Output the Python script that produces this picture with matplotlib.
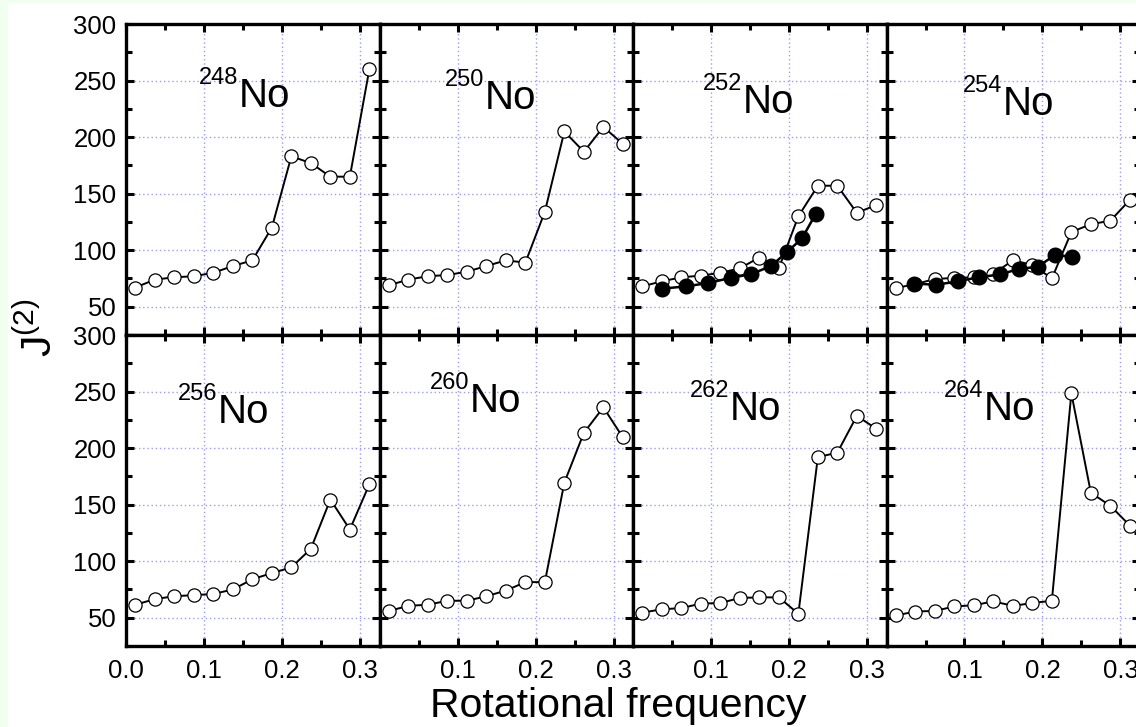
import matplotlib
matplotlib.use("Agg")
import matplotlib.pyplot as plt
from matplotlib.ticker import MultipleLocator, FuncFormatter
from matplotlib.patches import Rectangle

plt.rcParams['font.family'] = ['Liberation Sans', 'DejaVu Sans']
plt.rcParams['mathtext.fontset'] = 'custom'
plt.rcParams['mathtext.rm'] = 'Liberation Sans'

# ---------------- data ----------------
isotopes = ['248', '250', '252', '254', '256', '260', '262', '264']

omega = [0.012, 0.037, 0.062, 0.087, 0.112, 0.137, 0.162, 0.187,
         0.212, 0.237, 0.262, 0.287, 0.312]

j2_248 = [67, 74, 76, 77, 80, 86, 91, 120, 183, 177, 165, 165, 260]
j2_250 = [69, 74, 77, 78, 81, 86, 91, 89, 134, 205, 187, 209, 194]
j2_252 = [68, 72.5, 76, 77.5, 80, 84, 93.5, 84, 130, 157, 157, 133, 140]
j2_254 = [66.5, 70, 74.5, 75.5, 76, 79, 91, 87, 75, 116, 123, 126, 144.5]
j2_256 = [61.5, 66.5, 69, 70, 71, 75, 84, 89.5, 94.5, 111, 154.5, 128, 168]
j2_260 = [56, 60.5, 61.5, 65, 65, 69, 74, 81.5, 81.5, 169.5, 213.5, 236, 209.5]
j2_262 = [54.5, 57.5, 58.5, 62.5, 63, 67.5, 68, 68, 53.5, 192, 196, 228.5, 217]
j2_264 = [52, 55.5, 56, 60, 61, 64.5, 60.5, 63, 65, 248.5, 160.5, 149, 131.5]

# experimental points (filled)
exp_omega_252 = [0.0376, 0.068, 0.0966, 0.1252, 0.1513, 0.1765, 0.197, 0.2167, 0.2342]
exp_j2_252 = [66, 68, 71, 75.5, 78.8, 85.8, 98, 110.5, 132]
exp_omega_254 = [0.0357, 0.0635, 0.0913, 0.119, 0.1455, 0.170, 0.194, 0.2164, 0.2378]
exp_j2_254 = [70.5, 69.4, 72.4, 76.2, 78.5, 83.5, 85.3, 96, 94]

calc = [j2_248, j2_250, j2_252, j2_254, j2_256, j2_260, j2_262, j2_264]
exp = {2: (exp_omega_252, exp_j2_252), 3: (exp_omega_254, exp_j2_254)}

# label layout (pixels relative to panel: left of "No", baseline below top)
label_pos = [(113, 83), (105.5, 85), (109.5, 89), (116, 91),
             (92, 88), (90.5, 77), (97, 85), (97, 85)]

W, H = 1136, 727
fig = plt.figure(figsize=(W / 100, H / 100), dpi=100)
fig.patch.set_facecolor('white')
green = '#f0fff0'
fig.add_artist(Rectangle((0, 0), 8 / W, 1, transform=fig.transFigure,
                         facecolor=green, edgecolor='none', zorder=-10))
fig.add_artist(Rectangle((0, 1 - 3 / H), 1, 3 / H, transform=fig.transFigure,
                         facecolor=green, edgecolor='none', zorder=-10))

pw, ph = 253.5, 311
left0 = 126
tops = [24, 335]

for i in range(8):
    r, c = divmod(i, 4)
    x0 = left0 + c * pw
    y0 = tops[r] + ph
    ax = fig.add_axes([x0 / W, 1 - y0 / H, pw / W, ph / H])
    ax.set_xlim(0, 0.325)
    ax.set_ylim(25, 300)
    ax.set_axisbelow(True)
    ax.grid(True, which='major', color='#9c9cff', linestyle=(0, (1, 2)), linewidth=1.0)

    ax.plot(omega, calc[i], '-o', color='black', lw=1.4, ms=9.5,
            mfc='white', mec='black', mew=0.9, zorder=3, clip_on=False)
    if i in exp:
        ex, ey = exp[i]
        ax.plot(ex, ey, '-o', color='black', lw=1.8, ms=10.5,
                mfc='black', mec='black', zorder=4)

    for s in ax.spines.values():
        s.set_linewidth(2.4)
    ax.xaxis.set_major_locator(MultipleLocator(0.1))
    ax.xaxis.set_minor_locator(MultipleLocator(0.05))
    ax.yaxis.set_major_locator(MultipleLocator(50))
    ax.yaxis.set_minor_locator(MultipleLocator(25))
    ax.tick_params(which='both', direction='in', top=True, right=True,
                   labelsize=18.5)
    ax.tick_params(which='major', length=6, width=2.2)
    ax.tick_params(which='minor', length=4, width=2.2)
    ax.tick_params(axis='y', pad=7)
    ax.tick_params(axis='x', pad=9)

    if c == 0:
        ax.set_yticks([50, 100, 150, 200, 250, 300])
    else:
        ax.tick_params(axis='y', labelleft=False)
    if r == 1:
        if c == 0:
            ax.xaxis.set_major_formatter(FuncFormatter(lambda v, p: f'{v:.1f}'))
        else:
            ax.xaxis.set_major_formatter(
                FuncFormatter(lambda v, p: '' if abs(v) < 1e-9 else f'{v:.1f}'))
    else:
        ax.tick_params(axis='x', labelbottom=False)

    lx, ly = label_pos[i]
    fx, fy = lx / pw, 1 - ly / ph
    ax.text(fx, fy, 'No', transform=ax.transAxes, fontsize=29,
            ha='left', va='baseline')
    ax.text(fx - 0.002, fy + 23 / ph, isotopes[i], transform=ax.transAxes,
            fontsize=17, ha='right', va='baseline')

fig.text(618 / W, 1 - 717 / H, 'Rotational frequency', fontsize=29.5,
         ha='center', va='baseline')
fig.text(40 / W, 1 - 328 / H, r'J$^{\mathregular{(2)}}$', fontsize=31,
         rotation=90, ha='center', va='center')

fig.savefig('out.png', dpi=100)
